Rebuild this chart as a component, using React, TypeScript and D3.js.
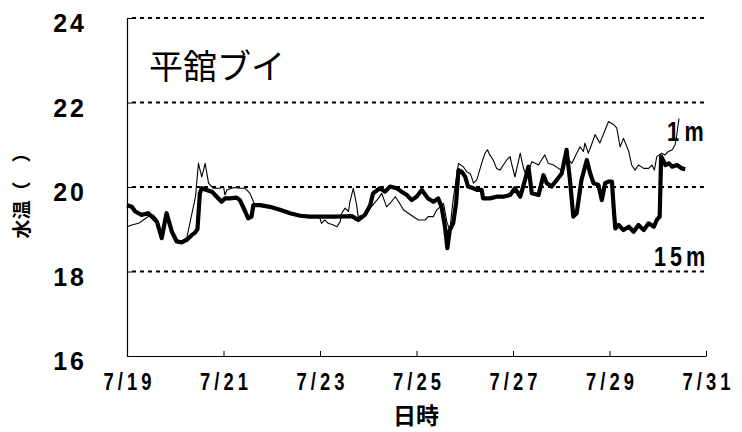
import React, { useEffect, useRef } from 'react';
import { axisBottom, axisLeft, line, scaleLinear, select } from 'd3';

// days since 7/19 00:00
const dayTicks = [0, 2, 4, 6, 8, 10, 12];
const dayLabels = ['7/19', '7/21', '7/23', '7/25', '7/27', '7/29', '7/31'];
const tempTicks = [16, 18, 20, 22, 24];
const gridTemps = [18, 20, 22, 24];

// 15m (thick)
const deep15: [number, number][] = [
  [0.00, 19.57], [0.10, 19.53], [0.17, 19.42], [0.30, 19.34], [0.44, 19.38], [0.51, 19.30],
  [0.62, 19.18], [0.72, 18.79], [0.82, 19.38], [0.93, 18.94], [1.03, 18.71], [1.13, 18.69],
  [1.24, 18.75], [1.34, 18.86], [1.41, 18.92], [1.46, 19.0], [1.51, 19.85], [1.55, 19.97],
  [1.65, 19.93], [1.76, 19.89], [1.86, 19.77], [1.96, 19.65], [2.03, 19.73], [2.13, 19.73],
  [2.27, 19.75], [2.34, 19.69], [2.45, 19.42], [2.51, 19.26], [2.58, 19.30], [2.62, 19.57],
  [2.76, 19.57], [2.96, 19.53], [3.17, 19.46], [3.38, 19.38], [3.59, 19.32], [3.79, 19.30],
  [4.00, 19.30], [4.31, 19.30], [4.66, 19.31], [4.79, 19.22], [4.93, 19.34], [5.04, 19.57],
  [5.10, 19.85], [5.24, 19.97], [5.35, 19.89], [5.45, 20.01], [5.59, 19.97], [5.69, 19.89],
  [5.80, 19.81], [5.90, 19.69], [6.00, 19.77], [6.11, 19.93], [6.24, 19.73], [6.35, 19.65],
  [6.45, 19.73], [6.52, 19.53], [6.59, 19.06], [6.64, 18.55], [6.69, 18.98], [6.76, 19.14],
  [6.82, 19.61], [6.87, 20.40], [6.94, 20.36], [7.01, 20.24], [7.07, 20.01], [7.18, 19.97],
  [7.25, 19.93], [7.35, 19.93], [7.38, 19.73], [7.52, 19.73], [7.66, 19.77], [7.80, 19.77],
  [7.94, 19.81], [8.04, 19.97], [8.15, 19.77], [8.25, 20.17], [8.32, 20.48], [8.39, 19.85],
  [8.53, 19.81], [8.63, 20.28], [8.70, 20.09], [8.80, 20.01], [8.91, 20.17], [9.01, 20.32],
  [9.11, 20.88], [9.18, 20.17], [9.25, 19.30], [9.32, 19.38], [9.42, 20.17], [9.53, 20.64],
  [9.60, 20.32], [9.67, 20.09], [9.77, 20.05], [9.84, 19.69], [9.91, 20.09], [9.98, 20.13],
  [10.05, 20.13], [10.09, 19.46], [10.12, 19.02], [10.19, 19.10], [10.29, 18.98], [10.40, 19.06],
  [10.50, 18.94], [10.60, 19.10], [10.71, 18.98], [10.81, 19.14], [10.92, 19.06], [10.98, 19.22],
  [11.04, 19.30], [11.07, 20.72], [11.16, 20.52], [11.23, 20.56], [11.30, 20.48], [11.40, 20.52],
  [11.50, 20.44], [11.57, 20.42],
];

// 1m (thin)
const surface1: [number, number][] = [
  [0.00, 19.06], [0.10, 19.10], [0.24, 19.14], [0.34, 19.22], [0.44, 19.30], [0.54, 19.34],
  [0.62, 19.24], [0.72, 18.85], [0.82, 19.36], [0.93, 18.96], [1.03, 18.75], [1.13, 18.72],
  [1.24, 18.80], [1.31, 19.18], [1.42, 19.77], [1.48, 20.56], [1.55, 20.24], [1.62, 20.56],
  [1.69, 20.09], [1.79, 19.97], [1.93, 19.97], [2.00, 20.01], [2.03, 19.81], [2.07, 19.93],
  [2.21, 19.99], [2.34, 19.97], [2.45, 19.97], [2.55, 19.85], [2.62, 19.65], [2.66, 19.57],
  [2.76, 19.55], [2.96, 19.52], [3.17, 19.44], [3.38, 19.36], [3.59, 19.30], [3.79, 19.28],
  [3.90, 19.30], [4.00, 19.26], [4.03, 19.14], [4.10, 19.22], [4.17, 19.14], [4.28, 19.10],
  [4.35, 19.06], [4.42, 19.18], [4.45, 19.38], [4.52, 19.50], [4.59, 19.42], [4.62, 19.65],
  [4.69, 19.97], [4.76, 19.57], [4.79, 19.30], [4.93, 19.34], [5.04, 19.50], [5.21, 19.73],
  [5.28, 19.85], [5.38, 19.53], [5.45, 19.61], [5.56, 19.77], [5.63, 19.65], [5.73, 19.46],
  [5.83, 19.38], [5.93, 19.30], [6.04, 19.22], [6.18, 19.22], [6.24, 19.30], [6.35, 19.30],
  [6.42, 19.46], [6.49, 19.53], [6.56, 19.61], [6.63, 19.17], [6.69, 18.98], [6.76, 19.70],
  [6.87, 20.56], [6.97, 20.48], [7.04, 20.36], [7.11, 20.32], [7.14, 20.24], [7.18, 20.09],
  [7.25, 20.17], [7.35, 20.56], [7.42, 20.80], [7.47, 20.88], [7.52, 20.76], [7.59, 20.64],
  [7.66, 20.44], [7.73, 20.40], [7.80, 20.52], [7.87, 20.64], [7.94, 20.72], [7.97, 20.56],
  [8.04, 20.24], [8.15, 20.80], [8.21, 20.48], [8.28, 20.24], [8.39, 20.60], [8.46, 20.56],
  [8.53, 20.52], [8.59, 20.64], [8.66, 20.76], [8.73, 20.56], [8.84, 20.52], [8.94, 20.44],
  [9.01, 20.40], [9.11, 20.70], [9.22, 20.56], [9.32, 20.80], [9.39, 20.95], [9.46, 20.84],
  [9.49, 21.04], [9.56, 20.80], [9.64, 21.04], [9.70, 21.24], [9.80, 21.04], [9.87, 21.24],
  [9.98, 21.55], [10.08, 21.48], [10.15, 21.40], [10.22, 20.95], [10.29, 21.15], [10.40, 20.84],
  [10.46, 20.52], [10.53, 20.40], [10.60, 20.52], [10.71, 20.44], [10.81, 20.44], [10.88, 20.52],
  [10.93, 20.40], [10.98, 20.72], [11.08, 20.80], [11.15, 20.76], [11.22, 20.84], [11.30, 20.88],
  [11.36, 21.00], [11.39, 21.20], [11.44, 21.62],
];

const W = 742, H = 432;
const margin = { top: 18, right: 36, bottom: 76, left: 127 };
const width = W - margin.left - margin.right;
const height = H - margin.top - margin.bottom;
const numFont = '"Liberation Sans", Arial, sans-serif';
const jpFont = '"Noto Sans CJK JP", sans-serif';

export default function App() {
  const xRef = useRef<SVGGElement>(null);
  const yRef = useRef<SVGGElement>(null);

  const x = scaleLinear().domain([0, 12]).range([0, width]);
  const y = scaleLinear().domain([16, 24]).range([height, 0]);
  const path = line<[number, number]>().x(d => x(d[0])).y(d => y(d[1]));

  useEffect(() => {
    const gx = select(xRef.current)
      .call(axisBottom(x).tickValues(dayTicks).tickSizeInner(-5).tickSizeOuter(0)
        .tickPadding(18).tickFormat((_, i) => dayLabels[i]));
    gx.select('.domain').attr('stroke', '#000').attr('stroke-width', 1.2);
    gx.selectAll('.tick line').attr('stroke', '#000');
    gx.selectAll('.tick text')
      .attr('font-family', numFont).attr('font-weight', 'bold').attr('font-size', 23)
      .attr('letter-spacing', 5).attr('dx', 2.5).attr('transform', 'scale(0.8,1)').attr('fill', '#000');

    const gy = select(yRef.current)
      .call(axisLeft(y).tickValues(tempTicks).tickSizeInner(-5).tickSizeOuter(0).tickPadding(40));
    gy.select('.domain').attr('stroke', '#000').attr('stroke-width', 1.2);
    gy.selectAll('.tick line').attr('stroke', '#000');
    gy.selectAll('.tick text')
      .attr('font-family', numFont).attr('font-weight', 'bold').attr('font-size', 25)
      .attr('letter-spacing', 3).attr('dy', '0.55em').attr('fill', '#000');
  }, []);

  return (
    <svg width={W} height={H} style={{ position: 'absolute', left: 0, top: 0, background: '#fff' }}>
      <g transform={`translate(${margin.left},${margin.top})`}>
        {gridTemps.map(t => (
          <line key={t} x1={5} x2={width} y1={y(t)} y2={y(t)}
            stroke="#000" strokeWidth={2} strokeDasharray="4 4" />
        ))}
        <path d={path(surface1) ?? ''} fill="none" stroke="#000" strokeWidth={1.1} strokeLinejoin="round" />
        <path d={path(deep15) ?? ''} fill="none" stroke="#000" strokeWidth={4.2} strokeLinejoin="round" />
        <g ref={xRef} transform={`translate(0,${height})`} />
        <g ref={yRef} />
        <text x={22} y={61} fontFamily={jpFont} fontSize={34}>平舘ブイ</text>
      </g>
      <text transform="translate(667,141) scale(0.8,1)" fontFamily={numFont} fontWeight="bold" fontSize={27} letterSpacing={7}>1m</text>
      <text transform="translate(654,266) scale(0.8,1)" fontFamily={numFont} fontWeight="bold" fontSize={27} letterSpacing={5}>15m</text>
      <text x={416} y={424} textAnchor="middle" fontFamily={jpFont} fontWeight="bold" fontSize={23}>日時</text>
      <text transform={`translate(29,${margin.top + y(20) + 4}) rotate(-90)`} textAnchor="middle"
        fontFamily={jpFont} fontWeight="bold" fontSize={19}>水温（　）</text>
    </svg>
  );
}
